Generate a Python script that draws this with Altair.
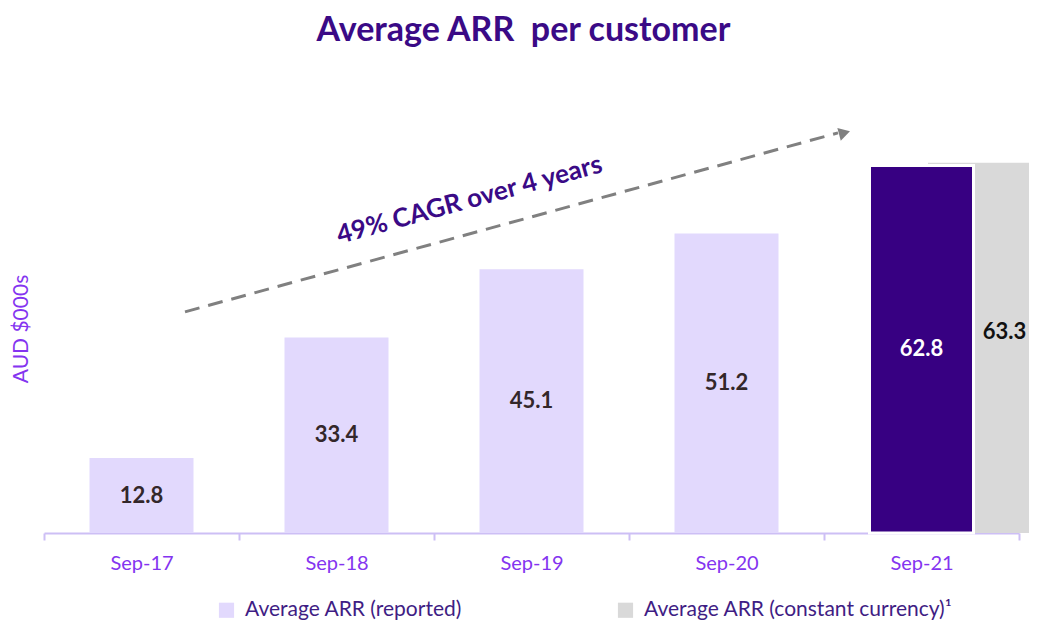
import altair as alt
import pandas as pd

categories = ["Sep-17", "Sep-18", "Sep-19", "Sep-20", "Sep-21"]
reported = [12.8, 33.4, 45.1, 51.2, 62.8]
constant_cat = ["Sep-21"]
constant_vals = [63.3]
series_names = ["Average ARR (reported)", "Average ARR (constant currency)\u00b9"]
arrow_start = ("Sep-17", 37.8)
arrow_end = ("Sep-21", 68.4)
cagr_text = "49% CAGR over 4 years"

FONT = "Lato"
LAV = "#e2d9fd"
GREY = "#d9d9d9"
DARK = "#370082"
LABEL_C = "#8434f0"

df_rep = pd.DataFrame({"cat": categories, "val": reported, "series": series_names[0],
                       "lbl": [f"{v:.1f}" for v in reported],
                       "last": [c == "Sep-21" for c in categories]})
df_const = pd.DataFrame({"cat": constant_cat, "val": constant_vals, "series": series_names[1],
                         "lbl": [f"{v:.1f}" for v in constant_vals]})
df_arrow = pd.DataFrame({"c1": [arrow_start[0]], "y1": [arrow_start[1]],
                         "c2": [arrow_end[0]], "y2": [arrow_end[1]]})
df_head = pd.DataFrame({"c": [arrow_end[0]], "y": [arrow_end[1]]})
df_txt = pd.DataFrame({"c": ["Sep-19"], "y": [56.9], "t": [cagr_text]})

xenc = alt.X("cat:N", sort=categories, scale=alt.Scale(paddingInner=0, paddingOuter=0),
             axis=alt.Axis(title=None, labelColor=LABEL_C, labelFont=FONT, labelFontSize=20,
                           labelAngle=0, tickBand="extent", tickSize=7, tickColor="#cdbff5",
                           domainColor="#cdbff5", domainWidth=2, tickWidth=2, labelPadding=13))
yscale = alt.Scale(domain=[0, 70], nice=False)
yenc = alt.Y("val:Q", scale=yscale,
             axis=alt.Axis(title="AUD $000s", labels=False, ticks=False, domain=False, grid=False,
                           titleColor=LABEL_C, titleFont=FONT, titleFontSize=21,
                           titleFontWeight="normal", titleX=-13, titleY=205,
                           titleBaseline="bottom", titleAngle=270))
color = alt.Color("series:N", scale=alt.Scale(domain=series_names, range=[LAV, GREY]),
                  legend=alt.Legend(title=None, orient="none", direction="horizontal",
                                    legendX=172, legendY=476, symbolType="square", symbolSize=230,
                                    symbolStrokeWidth=0, labelFont=FONT, labelFontSize=21,
                                    labelColor="#3f1d84", columnPadding=152, labelOffset=8,
                                    labelLimit=500))

grey = alt.Chart(df_const).mark_bar(size=101, xOffset=57).encode(x=xenc, y=yenc, color=color)
rep = alt.Chart(df_rep).mark_bar(size=104).encode(x=xenc, y=yenc, color=color)
dark = alt.Chart(df_rep).transform_filter("datum.last").mark_bar(
    size=104, color=DARK, stroke="white", strokeWidth=3).encode(x=xenc, y=yenc)

lbl = alt.Chart(df_rep).transform_calculate(mid="datum.val/2").mark_text(
    font=FONT, fontSize=22, fontWeight="bold", baseline="middle").encode(
    x=alt.X("cat:N", sort=categories), y=alt.Y("mid:Q", scale=yscale), text="lbl:N",
    color=alt.condition("datum.last", alt.value("white"), alt.value("#33272a")))
lbl_c = alt.Chart(df_const).transform_calculate(mid="datum.val/2 + 2.7").mark_text(
    font=FONT, fontSize=22, fontWeight="bold", baseline="middle", xOffset=83, color="#111111").encode(
    x=alt.X("cat:N", sort=categories), y=alt.Y("mid:Q", scale=yscale), text="lbl:N")

arrow = alt.Chart(df_arrow).mark_rule(color="#808080", strokeWidth=3, strokeDash=[15, 9],
                                      xOffset=43.5, x2Offset=-83.5).encode(
    x=alt.X("c1:N", sort=categories), x2="c2:N", y=alt.Y("y1:Q", scale=yscale), y2="y2:Q")
head = alt.Chart(df_head).mark_point(shape="triangle-right", filled=True, color="#808080",
                                     size=170, opacity=1, angle=344.7, xOffset=-77).encode(
    x=alt.X("c:N", sort=categories), y=alt.Y("y:Q", scale=yscale))
txt = alt.Chart(df_txt).mark_text(font=FONT, fontSize=26, fontWeight="bold", color="#3a0a86",
                                  angle=344.7, xOffset=-62, baseline="middle").encode(
    x=alt.X("c:N", sort=categories), y=alt.Y("y:Q", scale=yscale), text="t:N")

chart = alt.layer(grey, rep, dark, lbl, lbl_c, arrow, head, txt).properties(
    width=975, height=409.5,
    title=alt.TitleParams("Average ARR\u00a0 per customer", font=FONT, fontSize=34, fontWeight="bold",
                          color="#3a0a86", anchor="middle", offset=76, dx=-8),
    autosize=alt.AutoSizeParams(type="none"),
    padding={"left": 36, "top": 115.5, "right": 18, "bottom": 89},
).configure_view(stroke=None)

chart.save("out.html", embed_options={"renderer": "svg", "actions": False})
